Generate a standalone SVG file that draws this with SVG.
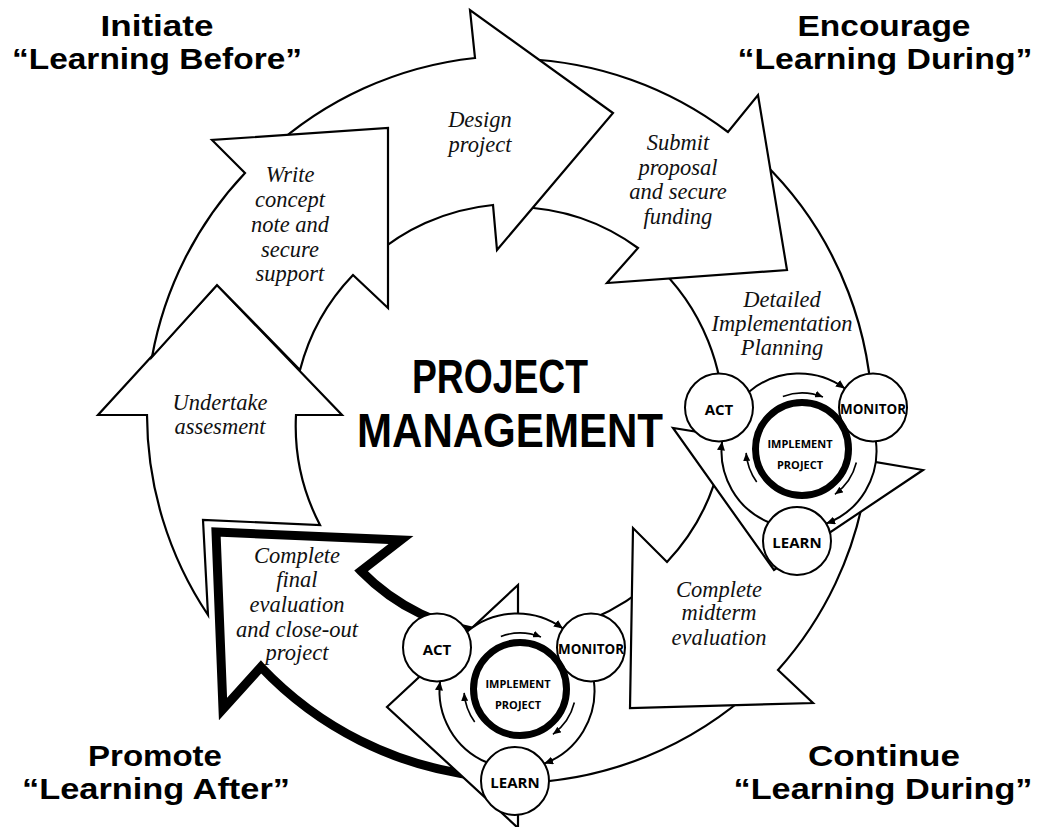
<svg xmlns="http://www.w3.org/2000/svg" width="1040" height="827" viewBox="0 0 1040 827">
<style>
.arr{fill:#fff;stroke:#000;stroke-width:2.2;stroke-linejoin:miter}
.thick{fill:#fff;stroke:#000;stroke-width:9;stroke-linejoin:miter;stroke-miterlimit:10}
.lbl{font-family:"Liberation Serif",serif;font-style:italic;font-size:22.5px;text-anchor:middle;fill:#111}
.ttl{font-family:"Liberation Sans",Arial,sans-serif;font-weight:bold;font-size:29.5px;text-anchor:middle;fill:#000}
.ctr{font-family:"Liberation Sans",Arial,sans-serif;font-weight:bold;font-size:48px;text-anchor:middle;fill:#000}
.disc{fill:#fff;stroke:none}
.node{fill:#fff;stroke:#000;stroke-width:2}
.ntxt{font-family:"Open Sans",sans-serif;font-weight:bold;font-size:15px;text-anchor:middle;fill:#000}
.itxt{font-family:"Open Sans",sans-serif;font-weight:bold;font-size:11px;text-anchor:middle;fill:#000}
.impl{fill:#fff;stroke:#000;stroke-width:7}
.cyc{fill:none;stroke:#000;stroke-width:2;marker-end:url(#ah)}
.sm{fill:none;stroke:#000;stroke-width:1.6;marker-end:url(#ahs)}
</style>
<defs>
<marker id="ah" markerUnits="userSpaceOnUse" markerWidth="9" markerHeight="8" viewBox="0 0 9 8" refX="9" refY="4" orient="auto"><path d="M0,0 L9,4 L0,8 Z" fill="#000"/></marker>
<marker id="ahs" markerUnits="userSpaceOnUse" markerWidth="8" markerHeight="7" viewBox="0 0 8 7" refX="8" refY="3.5" orient="auto"><path d="M0,0 L8,3.5 L0,7 Z" fill="#000"/></marker>
<g id="cyc">
<circle class="disc" cx="0" cy="0" r="77.5"/>
<g class="conn">
<path class="cyc" d="M-49.89,-59.30 A77.5,77.5 0 0,1 45.88,-62.46"/>
<path class="cyc" d="M76.91,-9.58 A77.5,77.5 0 0,1 27.14,72.59"/>
<path class="cyc" d="M-30.40,71.29 A77.5,77.5 0 0,1 -76.91,-9.58"/>
<path class="sm" d="M-16.15,-54.62 A56,56 0 0,1 23.98,-53.92"/>
<path class="sm" d="M57.34,11.55 A56,56 0 0,1 35.92,43.30"/>
<path class="sm" d="M-42.30,30.92 A56,56 0 0,1 -52.86,1.91"/>
</g>
<circle class="node" cx="-80" cy="-43.5" r="34"/>
<text class="ntxt" x="-80" y="-36">ACT</text>
<circle class="node" cx="74" cy="-43.5" r="34"/>
<text class="ntxt" x="74" y="-37" textLength="66" lengthAdjust="spacingAndGlyphs">MONITOR</text>
<circle class="node" cx="-2" cy="90" r="34"/>
<text class="ntxt" x="-2" y="97">LEARN</text>
<circle class="impl" cx="3" cy="-2" r="46.5"/>
<text class="itxt" x="1" y="-3.5">IMPLEMENT</text>
<text class="itxt" x="1" y="18">PROJECT</text>
</g>
</defs>

<g id="step-undertake">
<path class="arr" d="M147,415 L98,415 L217,285 L342,415 L296,415 A214,214 0 0,0 320,525 L203,520 L208,615 A362,362 0 0,1 147,415 Z"/>
<text class="lbl" x="220"><tspan x="220" y="410">Undertake</tspan><tspan x="220" y="434">assesment</tspan></text>
</g>
<g id="step-final">
<path class="thick" d="M479,776 A356,356 0 0,1 261,667 L223,709 L216,532 L401,540 L361,571 A214,214 0 0,0 491,634 Z"/>
<text class="lbl" x="297"><tspan x="297" y="563">Complete</tspan><tspan x="297" y="587">final</tspan><tspan x="297" y="612">evaluation</tspan><tspan x="297" y="637">and close-out</tspan><tspan x="297" y="660">project</tspan></text>
</g>
<g id="step-implement-2">
<path class="arr" d="M757,686 A362,362 0 0,1 518,783 L518,828 L387,707 L518,585 L518,635 A214,214 0 0,0 656,578 Z"/>
</g>
<g id="step-midterm">
<path class="arr" d="M866,484 A362,362 0 0,1 778,670 L813,703 L630,708 L633,528 L667,562 A214,214 0 0,0 721,458 Z"/>
<text class="lbl" x="719"><tspan x="719" y="597">Complete</tspan><tspan x="719" y="620">midterm</tspan><tspan x="719" y="645">evaluation</tspan></text>
</g>
<g id="step-detailed">
<path class="arr" d="M752,152 A362,362 0 0,1 870,461 L923,470 L774,570 L673,428 L723,436 A214,214 0 0,0 653,262 Z"/>
<text class="lbl" x="782"><tspan x="782" y="307">Detailed</tspan><tspan x="782" y="331">Implementation</tspan><tspan x="782" y="355">Planning</tspan></text>
</g>
<g id="step-submit">
<path class="arr" d="M523,59 A362,362 0 0,1 728,132 L758,95 L787,270 L607,283 L638,248 A214,214 0 0,0 517,207 Z"/>
<text class="lbl" x="678"><tspan x="678" y="150">Submit</tspan><tspan x="678" y="175">proposal</tspan><tspan x="678" y="199">and secure</tspan><tspan x="678" y="224">funding</tspan></text>
</g>
<g id="step-design">
<path class="arr" d="M268,152 A362,362 0 0,1 475,58 L470,10 L613,113 L497,250 L493,205 A214,214 0 0,0 367,262 Z"/>
<text class="lbl" x="480"><tspan x="480" y="127">Design</tspan><tspan x="480" y="152">project</tspan></text>
</g>
<g id="step-write">
<path class="arr" d="M245,173 L212,140 L388,128 L388,308 L353,275 A214,214 0 0,0 300,370 L217,285 L152,357 A362,362 0 0,1 245,173 Z"/>
<text class="lbl" x="290"><tspan x="290" y="182">Write</tspan><tspan x="290" y="207">concept</tspan><tspan x="290" y="232">note and</tspan><tspan x="290" y="257">secure</tspan><tspan x="290" y="281">support</tspan></text>
</g>

<g id="cycle-right"><use href="#cyc" transform="translate(799,451)"/></g>
<g id="cycle-bottom"><use href="#cyc" transform="translate(517,691)"/></g>

<g id="center-title">
<text class="ctr" x="500" y="393" textLength="176" lengthAdjust="spacingAndGlyphs">PROJECT</text>
<text class="ctr" x="510" y="447" textLength="306" lengthAdjust="spacingAndGlyphs">MANAGEMENT</text>
</g>
<g id="title-initiate"><text class="ttl"><tspan x="157" y="36" textLength="113" lengthAdjust="spacingAndGlyphs">Initiate</tspan><tspan x="157" y="69" textLength="290" lengthAdjust="spacingAndGlyphs">“Learning Before”</tspan></text></g>
<g id="title-encourage"><text class="ttl"><tspan x="884" y="36" textLength="173" lengthAdjust="spacingAndGlyphs">Encourage</tspan><tspan x="885" y="69" textLength="295" lengthAdjust="spacingAndGlyphs">“Learning During”</tspan></text></g>
<g id="title-promote"><text class="ttl"><tspan x="155" y="766" textLength="134" lengthAdjust="spacingAndGlyphs">Promote</tspan><tspan x="156" y="799" textLength="268" lengthAdjust="spacingAndGlyphs">“Learning After”</tspan></text></g>
<g id="title-continue"><text class="ttl"><tspan x="884" y="766" textLength="152" lengthAdjust="spacingAndGlyphs">Continue</tspan><tspan x="883" y="799" textLength="299" lengthAdjust="spacingAndGlyphs">“Learning During”</tspan></text></g>
</svg>
